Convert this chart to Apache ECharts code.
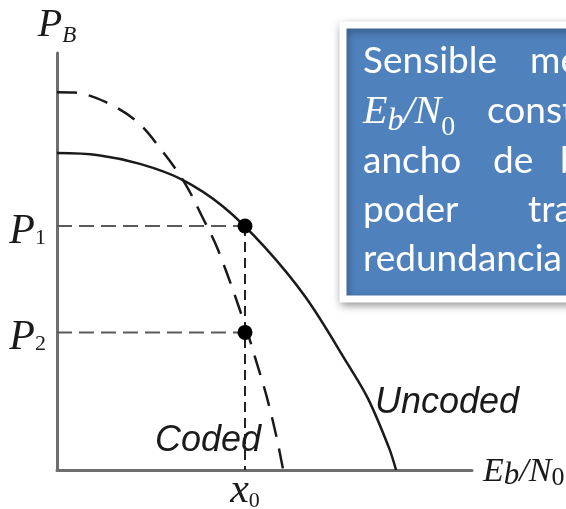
<!DOCTYPE html>
<html>
<head>
<meta charset="utf-8">
<script src="https://cdn.jsdelivr.net/npm/echarts@6/dist/echarts.min.js"></script>
<style>
  html, body { margin: 0; padding: 0; background: #fff; }
  #chart { width: 566px; height: 509px; }
</style>
</head>
<body>
<div id="chart"></div>
<script>
// Bit error probability P_B against Eb/N0, uncoded and coded systems (arbitrary units 0..100)
const uncoded = [[0, 76], [10, 75.5], [20, 73.4], [30, 69.7], [40, 63.2], [50, 53.5],
                 [60, 41.3], [70, 25.5], [75, 17], [80, 5.3], [81.7, 0]];
const coded = [[0, 90.6], [4.2, 90.5], [11.8, 88.2], [19.3, 83.5], [25.5, 76.3], [30.8, 68.8],
               [34.9, 60.9], [38.8, 52.8], [45.3, 34.8], [48, 26.1], [50.5, 17.7], [52.9, 7.9],
               [54.5, 0]];
const x0 = 45.3;
const P1 = 58.5;
const P2 = 33;
const yTickSubs = { [P1]: '1', [P2]: '2' };
const xTickSubs = { [x0]: '0' };

// Operating points read at x0
const operatingPoints = [[x0, P1], [x0, P2]];
const hGuides = [[[0, P1], [x0, P1]], [[0, P2], [x0, P2]]];
const vGuide = [[x0, P1], [x0, 0]];

const SERIF = '"Liberation Serif", "DejaVu Serif", serif';
const SANS = '"Liberation Sans", Arial, sans-serif';
const INK = '#1a1a1a';
const AXIS = '#6e6e6e';
const BOX_FONT = '37px Lato';

const chart = echarts.init(document.getElementById('chart'), null, { renderer: 'canvas' });

const mathRich = (big, small, padMain, padSub) => ({
  m: { fontFamily: SERIF, fontStyle: 'italic', fontSize: big, lineHeight: big, color: INK,
       verticalAlign: 'top', padding: [padMain, 0, 0, 0] },
  s: { fontFamily: SERIF, fontStyle: 'italic', fontSize: small, lineHeight: small, color: INK,
       verticalAlign: 'top', padding: [padSub, 0, 0, 0] },
  n: { fontFamily: SERIF, fontSize: small, lineHeight: small, color: INK,
       verticalAlign: 'top', padding: [padSub, 0, 0, 0] }
});

const boxWord = (text, x, y) => ({
  type: 'text', x, y, style: { text, fill: '#fff', font: BOX_FONT, verticalAlign: 'middle' }
});

const option = {
  animation: false,
  backgroundColor: '#ffffff',
  grid: { left: 57, top: 53, right: 94, bottom: 39, outerBoundsMode: 'none' },
  xAxis: {
    type: 'value', min: 0, max: 100,
    axisLine: { show: true, lineStyle: { color: AXIS, width: 3 } },
    axisTick: { show: false },
    splitLine: { show: false },
    axisLabel: {
      customValues: [x0],
      margin: 0,
      formatter: v => '{m|x}{n|' + xTickSubs[v] + '}',
      rich: mathRich(42, 22, 0, 20)
    },
    name: '{m|E}{s|b}{m|/N}{n|0}',
    nameLocation: 'end',
    nameGap: 11,
    nameTextStyle: {
      rich: {
        m: { fontFamily: SERIF, fontStyle: 'italic', fontSize: 34, lineHeight: 34, color: INK, verticalAlign: 'top', padding: [2, 0, 0, 0] },
        s: { fontFamily: SERIF, fontStyle: 'italic', fontSize: 31, lineHeight: 31, color: INK, verticalAlign: 'top', padding: [7, 0, 0, 0] },
        n: { fontFamily: SERIF, fontSize: 26, lineHeight: 26, color: INK, verticalAlign: 'top', padding: [12, 0, 0, 0] }
      }
    }
  },
  yAxis: {
    type: 'value', min: 0, max: 100,
    axisLine: { show: true, lineStyle: { color: AXIS, width: 3 } },
    axisTick: { show: false },
    splitLine: { show: false },
    axisLabel: {
      customValues: [P2, P1],
      margin: 11,
      formatter: v => '{m|P}{n|' + yTickSubs[v] + '}',
      rich: mathRich(42, 22, 6, 22)
    },
    name: '{m|P}{s|B}',
    nameLocation: 'end',
    nameGap: 8,
    nameTextStyle: { rich: mathRich(40, 23, 0, 19) }
  },
  series: [
    {
      name: 'Uncoded', type: 'line', data: uncoded, smooth: 0.35,
      showSymbol: false, lineStyle: { color: INK, width: 2.5 }, z: 3
    },
    {
      name: 'Coded', type: 'line', data: coded, smooth: 0.35,
      showSymbol: false, lineStyle: { color: INK, width: 2.5, type: [20, 12] }, z: 3
    },
    ...hGuides.map(seg => ({
      type: 'line', data: seg, showSymbol: false, silent: true,
      lineStyle: { color: '#5a5a5a', width: 2, type: [15, 7] }, z: 2
    })),
    {
      type: 'line', data: vGuide, showSymbol: false, silent: true,
      lineStyle: { color: '#222', width: 2, type: [10, 6] }, z: 2
    },
    {
      type: 'scatter', data: operatingPoints, symbol: 'circle', symbolSize: 15,
      itemStyle: { color: '#000', opacity: 1 }, z: 4
    }
  ],
  graphic: [
    { type: 'text', x: 375, y: 403, z: 5,
      style: { text: 'Uncoded', fill: INK, font: 'italic 36px ' + SANS, verticalAlign: 'middle' } },
    { type: 'text', x: 155, y: 441, z: 5,
      style: { text: 'Coded', fill: INK, font: 'italic 36px ' + SANS, verticalAlign: 'middle' } },
    {
      type: 'group', z: 10,
      children: [
        { type: 'rect', shape: { x: 343, y: 25, width: 300, height: 274 },
          style: { fill: '#4F81BD', stroke: '#ffffff', lineWidth: 7,
                   shadowBlur: 8, shadowColor: 'rgba(0,0,0,0.35)', shadowOffsetX: 1, shadowOffsetY: 3 } },
        boxWord('Sensible', 363, 61),
        boxWord('mejora', 530, 61),
        { type: 'text', x: 363, y: 92, style: {
            text: '{m|E}{s|b}{m|/N}{n|0}', fill: '#fff', verticalAlign: 'top',
            rich: {
              m: { fontFamily: SERIF, fontStyle: 'italic', fontSize: 40, lineHeight: 40, fill: '#fff', verticalAlign: 'top' },
              s: { fontFamily: SERIF, fontStyle: 'italic', fontSize: 32, lineHeight: 32, fill: '#fff', verticalAlign: 'top', padding: [14, 0, 0, 0] },
              n: { fontFamily: SERIF, fontSize: 28, lineHeight: 28, fill: '#fff', verticalAlign: 'top', padding: [22, 0, 0, 0] }
            } } },
        boxWord('constante', 487, 111),
        boxWord('ancho', 363, 161),
        boxWord('de', 493, 161),
        boxWord('banda', 560, 161),
        boxWord('poder', 363, 210),
        boxWord('transmitir', 528, 210),
        boxWord('redundancia', 363, 259)
      ]
    }
  ]
};

chart.setOption(option);
</script>
</body>
</html>
